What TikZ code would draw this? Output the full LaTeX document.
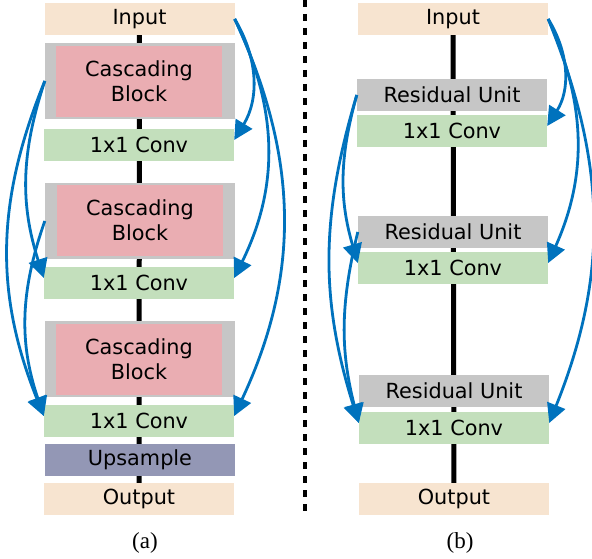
\documentclass[tikz,border=0pt]{standalone}
\usepackage{fontspec}
\usepackage{tikz}
\usetikzlibrary{arrows.meta,backgrounds}
\newfontfamily\boxfont{DejaVu Sans}
\newfontfamily\capfont{Liberation Serif}
\definecolor{ioclr}{RGB}{247,228,208}
\definecolor{grayclr}{RGB}{198,198,198}
\definecolor{pinkclr}{RGB}{234,173,178}
\definecolor{convclr}{RGB}{195,223,188}
\definecolor{upclr}{RGB}{147,151,181}
\definecolor{skipclr}{RGB}{0,114,189}
\tikzset{
  box/.style={minimum width=190pt,minimum height=32pt,inner sep=0pt,
    font=\boxfont\fontsize{20.8}{25}\selectfont},
  iobox/.style={box,fill=ioclr},
  convbox/.style={box,fill=convclr},
  resbox/.style={box,fill=grayclr},
  upbox/.style={box,fill=upclr},
  blockbox/.style={box,fill=grayclr,minimum height=76pt},
  cascbox/.style={box,fill=pinkclr,minimum width=166pt,minimum height=71pt,align=center},
  skip/.style={-{Triangle[length=19pt,width=19pt]},line width=2.8pt,draw=skipclr},
  trunk/.style={line width=5pt},
  caption/.style={font=\capfont\fontsize{23}{27}\selectfont}
}

\begin{document}
\begin{tikzpicture}[x=1pt,y=-1pt]
      \useasboundingbox (0,0) rectangle (592,559);
      % (a)
      \node[iobox] (inA) at (139.5,19) {Input};
      \node[blockbox] (blkA1) at (140,81) {};
      \node[cascbox] (casA1) at (139,81.5) {Cascading\\Block};
      \node[convbox] (cvA1) at (139,145) {1x1 Conv};
      \node[blockbox] (blkA2) at (140,221) {};
      \node[cascbox] (casA2) at (140,220.5) {Cascading\\Block};
      \node[convbox] (cvA2) at (139,283) {1x1 Conv};
      \node[blockbox] (blkA3) at (140,359) {};
      \node[cascbox] (casA3) at (139,359.5) {Cascading\\Block};
      \node[convbox] (cvA3) at (139,421) {1x1 Conv};
      \node[upbox] (upA) at (140,460) {Upsample};
      \node[iobox] (outA) at (139,499) {Output};
      \node[caption] (capA) at (145,543) {(a)};
      \begin{pgfonlayer}{background}
        \draw[trunk] (inA) -- (outA);
      \end{pgfonlayer}
      \draw[skip] (inA.east) to[bend left=31] (cvA1.3);
      \draw[skip] (inA.east) to[bend left=26] (cvA2.3);
      \draw[skip] (inA.east) to[bend left=25] (cvA3.3);
      \draw[skip] (blkA1.west) to[bend right=18] (cvA2.177);
      \draw[skip] (blkA1.west) to[bend right=22] (cvA3.177);
      \draw[skip] (blkA2.west) to[bend right=19] (cvA3.177);
      % divider
      \draw[line width=4pt,dash pattern=on 7pt off 7pt] (305,0) -- (305,515);
      % (b)
      \node[iobox] (inB) at (453,19) {Input};
      \node[resbox] (ruB1) at (452,95) {Residual Unit};
      \node[convbox] (cbB1) at (452,131) {1x1 Conv};
      \node[resbox] (ruB2) at (453,232) {Residual Unit};
      \node[convbox] (cbB2) at (453,268) {1x1 Conv};
      \node[resbox] (ruB3) at (454,391) {Residual Unit};
      \node[convbox] (cbB3) at (454,428) {1x1 Conv};
      \node[iobox] (outB) at (454,499) {Output};
      \node[caption] (capB) at (460,543) {(b)};
      \begin{pgfonlayer}{background}
        \draw[trunk] (inB) -- (outB);
      \end{pgfonlayer}
      \draw[skip] (inB.east) to[bend left=32] (cbB1.3);
      \draw[skip] (inB.east) to[bend left=24] (cbB2.3);
      \draw[skip] (inB.east) to[bend left=22] (cbB3.3);
      \draw[skip] (ruB1.west) to[bend right=16] (cbB2.177);
      \draw[skip] (ruB1.west) to[bend right=17] (cbB3.177);
      \draw[skip] (ruB2.west) to[bend right=14] (cbB3.177);
\end{tikzpicture}
\end{document}
